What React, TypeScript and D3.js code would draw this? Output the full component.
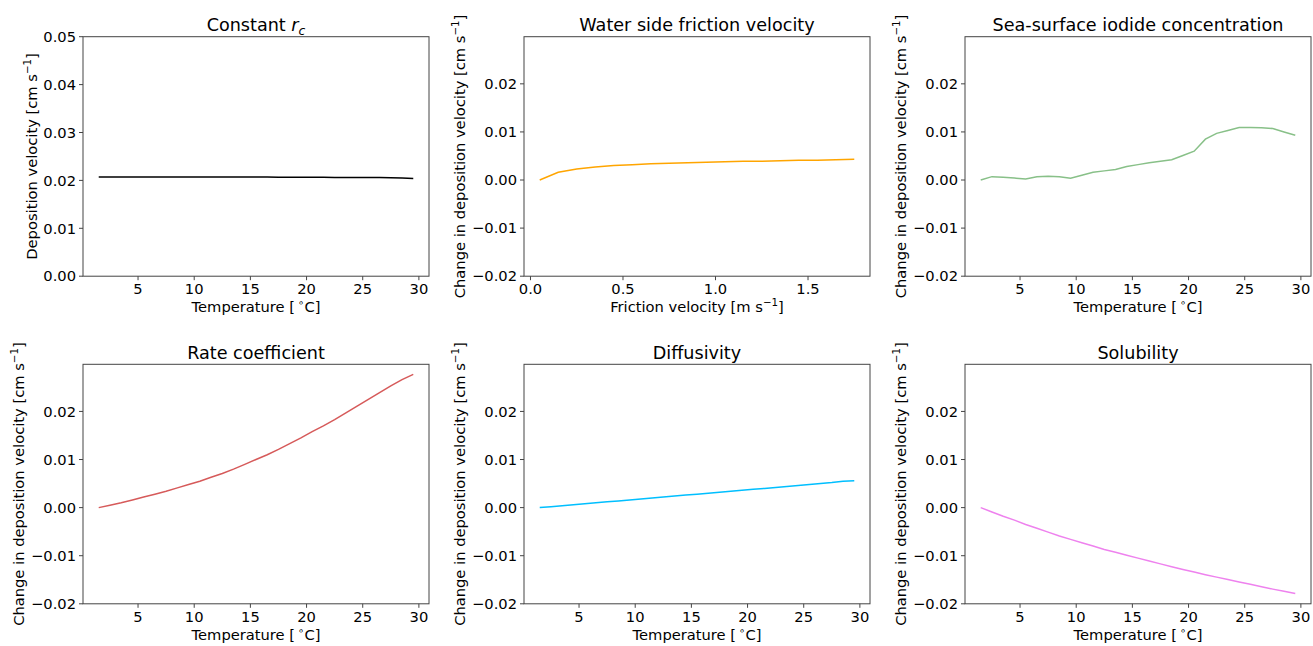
import * as d3 from "d3";

// x values
const temperature = [
  1.5, 2.5, 3.5, 4.5, 5.5, 6.5, 7.5, 8.5, 9.5, 10.5, 11.5, 12.5, 13.5, 14.5, 15.5,
  16.5, 17.5, 18.5, 19.5, 20.5, 21.5, 22.5, 23.5, 24.5, 25.5, 26.5, 27.5, 28.5, 29.5,
];
const frictionVelocity = [
  0.05, 0.15, 0.25, 0.35, 0.45, 0.55, 0.65, 0.75, 0.85, 0.95, 1.05, 1.15, 1.25, 1.35,
  1.45, 1.55, 1.65, 1.75,
];

// series values [cm s-1]
const constantRc = [
  0.0207, 0.0207, 0.0207, 0.0207, 0.0207, 0.0207, 0.0207, 0.0207, 0.0207, 0.0207,
  0.0207, 0.0207, 0.0207, 0.0207, 0.0207, 0.02069, 0.02068, 0.02067, 0.02066, 0.02065,
  0.02064, 0.02063, 0.02062, 0.02061, 0.0206, 0.02058, 0.02055, 0.0205, 0.0204,
];
const frictionChange = [
  0.0, 0.0016, 0.0023, 0.0027, 0.003, 0.0032, 0.0034, 0.0035, 0.0036, 0.0037, 0.0038,
  0.0039, 0.0039, 0.004, 0.0041, 0.0041, 0.0042, 0.0043,
];
const iodideChange = [
  0.0, 0.0007, 0.0006, 0.0004, 0.0002, 0.0007, 0.0008, 0.0007, 0.00035, 0.001, 0.0016,
  0.0019, 0.0022, 0.0028, 0.0032, 0.0036, 0.0039, 0.0042, 0.0051, 0.006, 0.0085, 0.0097,
  0.0103, 0.0109, 0.0109, 0.01085, 0.0107, 0.01, 0.0093,
];
const rateChange = [
  0.0, 0.0005, 0.001, 0.0016, 0.0022, 0.0028, 0.0034, 0.0041, 0.0048, 0.0055, 0.0063,
  0.0071, 0.008, 0.009, 0.01, 0.011, 0.0121, 0.0133, 0.0145, 0.0158, 0.017, 0.0183,
  0.0197, 0.0211, 0.0225, 0.0239, 0.0253, 0.0266, 0.0277,
];
const diffusivityChange = [
  0.0, 0.0002, 0.0004, 0.0006, 0.0008, 0.001, 0.0012, 0.0014, 0.0016, 0.0018, 0.002,
  0.0022, 0.0024, 0.0026, 0.0028, 0.003, 0.0032, 0.0034, 0.0036, 0.0038, 0.004, 0.0042,
  0.0044, 0.0046, 0.0048, 0.005, 0.0052, 0.0055, 0.0056,
];
const solubilityChange = [
  0.0, -0.0009, -0.0018, -0.0026, -0.0035, -0.0043, -0.0051, -0.0059, -0.0066, -0.0073,
  -0.008, -0.0087, -0.0093, -0.0099, -0.0105, -0.0111, -0.0117, -0.0123, -0.01285,
  -0.0134, -0.01395, -0.01445, -0.01495, -0.01545, -0.01595, -0.01645, -0.01695,
  -0.0174, -0.01785,
];

// ticks
const tempTicks = [5, 10, 15, 20, 25, 30];
const frictionTicks = [0, 0.5, 1.0, 1.5];
const depositionTicks = [0, 0.01, 0.02, 0.03, 0.04, 0.05];
const changeTicks = [-0.02, -0.01, 0, 0.01, 0.02];

const width = 1313;
const height = 646;
const panelW = 346;
const panelH = 239.5;
const lefts = [83, 524, 965];
const tops = [36.7, 364.3];
const font = "DejaVu Sans, sans-serif";
const tickSize = 14.7;
const titleSize = 17.6;
const spineColor = "#444";

const fmt = (d: number, digits: number) => d.toFixed(digits).replace("-", "\u2212");

function Unit({ pre }: { pre: string }) {
  return (
    <>
      {pre} [cm s
      <tspan dy={-6} fontSize={tickSize * 0.7}>{"\u22121"}</tspan>
      <tspan dy={6}>]</tspan>
    </>
  );
}

function TempLabel() {
  return (
    <>
      Temperature [
      <tspan dx={3} dy={-6} fontSize={tickSize * 0.7}>{"\u2218"}</tspan>
      <tspan dy={6}>C]</tspan>
    </>
  );
}

type PanelProps = {
  col: number;
  row: number;
  title: React.ReactNode;
  xLabel: React.ReactNode;
  yLabel: React.ReactNode;
  xs: number[];
  ys: number[];
  color: string;
  xDomain: [number, number];
  yDomain: [number, number];
  xTicks: number[];
  yTicks: number[];
  xDigits: number;
  labelOffset: number;
};

function Panel(p: PanelProps) {
  const left = lefts[p.col];
  const top = tops[p.row];
  const bottom = top + panelH;
  const x = d3.scaleLinear().domain(p.xDomain).range([left, left + panelW]);
  const y = d3.scaleLinear().domain(p.yDomain).range([bottom, top]);
  const line = d3
    .line<number>()
    .x((_, i) => x(p.xs[i]))
    .y((d) => y(d));
  const cx = left + panelW / 2;
  const cy = top + panelH / 2;

  return (
    <g fontFamily={font}>
      <path d={line(p.ys) ?? ""} fill="none" stroke={p.color} strokeWidth={1.5} />
      <rect x={left} y={top} width={panelW} height={panelH} fill="none" stroke={spineColor} strokeWidth={1} />
      {p.xTicks.map((t) => (
        <g key={t}>
          <line x1={x(t)} x2={x(t)} y1={bottom} y2={bottom + 4} stroke={spineColor} />
          <text x={x(t)} y={bottom + 18} textAnchor="middle" fontSize={tickSize}>
            {t.toFixed(p.xDigits)}
          </text>
        </g>
      ))}
      {p.yTicks.map((t) => (
        <g key={t}>
          <line x1={left - 4} x2={left} y1={y(t)} y2={y(t)} stroke={spineColor} />
          <text x={left - 7} y={y(t)} dy="0.36em" textAnchor="end" fontSize={tickSize}>
            {fmt(t, 2)}
          </text>
        </g>
      ))}
      <text x={cx} y={top - 5.5} textAnchor="middle" fontSize={titleSize}>
        {p.title}
      </text>
      <text x={cx} y={bottom + 36} textAnchor="middle" fontSize={tickSize}>
        {p.xLabel}
      </text>
      <text
        transform={`translate(${left - p.labelOffset},${cy}) rotate(-90)`}
        textAnchor="middle"
        fontSize={tickSize}
      >
        {p.yLabel}
      </text>
    </g>
  );
}

const tempDomain: [number, number] = [0.1, 30.9];
const changeDomain: [number, number] = [-0.02, 0.0298];

export default function App() {
  const changeLabel = <Unit pre="Change in deposition velocity" />;
  return (
    <svg
      width={width}
      height={height}
      style={{ position: "absolute", left: 0, top: 0, background: "#fff" }}
    >
      <Panel
        col={0}
        row={0}
        title={
          <>
            Constant <tspan fontStyle="italic">r</tspan>
            <tspan fontStyle="italic" dy={4} fontSize={titleSize * 0.7}>c</tspan>
          </>
        }
        xLabel={<TempLabel />}
        yLabel={<Unit pre="Deposition velocity" />}
        xs={temperature}
        ys={constantRc}
        color="#000000"
        xDomain={tempDomain}
        yDomain={[0, 0.05]}
        xTicks={tempTicks}
        yTicks={depositionTicks}
        xDigits={0}
        labelOffset={46}
      />
      <Panel
        col={1}
        row={0}
        title="Water side friction velocity"
        xLabel={
          <>
            Friction velocity [m s
            <tspan dy={-6} fontSize={tickSize * 0.7}>{"\u22121"}</tspan>
            <tspan dy={6}>]</tspan>
          </>
        }
        yLabel={changeLabel}
        xs={frictionVelocity}
        ys={frictionChange}
        color="#FFA500"
        xDomain={[-0.035, 1.835]}
        yDomain={changeDomain}
        xTicks={frictionTicks}
        yTicks={changeTicks}
        xDigits={1}
        labelOffset={59}
      />
      <Panel
        col={2}
        row={0}
        title="Sea-surface iodide concentration"
        xLabel={<TempLabel />}
        yLabel={changeLabel}
        xs={temperature}
        ys={iodideChange}
        color="#88c088"
        xDomain={tempDomain}
        yDomain={changeDomain}
        xTicks={tempTicks}
        yTicks={changeTicks}
        xDigits={0}
        labelOffset={59}
      />
      <Panel
        col={0}
        row={1}
        title="Rate coefficient"
        xLabel={<TempLabel />}
        yLabel={changeLabel}
        xs={temperature}
        ys={rateChange}
        color="#d65a5a"
        xDomain={tempDomain}
        yDomain={changeDomain}
        xTicks={tempTicks}
        yTicks={changeTicks}
        xDigits={0}
        labelOffset={59}
      />
      <Panel
        col={1}
        row={1}
        title="Diffusivity"
        xLabel={<TempLabel />}
        yLabel={changeLabel}
        xs={temperature}
        ys={diffusivityChange}
        color="#00BFFF"
        xDomain={tempDomain}
        yDomain={changeDomain}
        xTicks={tempTicks}
        yTicks={changeTicks}
        xDigits={0}
        labelOffset={59}
      />
      <Panel
        col={2}
        row={1}
        title="Solubility"
        xLabel={<TempLabel />}
        yLabel={changeLabel}
        xs={temperature}
        ys={solubilityChange}
        color="#EE82EE"
        xDomain={tempDomain}
        yDomain={changeDomain}
        xTicks={tempTicks}
        yTicks={changeTicks}
        xDigits={0}
        labelOffset={59}
      />
    </svg>
  );
}
